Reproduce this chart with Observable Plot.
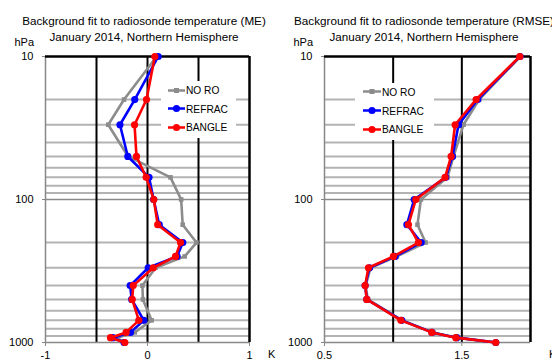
<!DOCTYPE html>
<html><head><meta charset="utf-8">
<script src="https://cdn.jsdelivr.net/npm/d3@7"></script>
<script src="https://cdn.jsdelivr.net/npm/@observablehq/plot@0.6"></script>
<style>
body{margin:0;background:#fff;font-family:"Liberation Sans",Arial,sans-serif;}
#wrap{position:relative;width:552px;height:361px;overflow:hidden;background:#fff;}
.panel{position:absolute;top:0;}
.t{position:absolute;white-space:nowrap;color:#000;font-size:11.7px;transform:translate(-50%,-50%);}
.r{position:absolute;white-space:nowrap;color:#000;font-size:11px;transform:translate(-100%,-50%);}
.l{position:absolute;white-space:nowrap;color:#000;font-size:11px;transform:translate(0,-50%);}
.legend{position:absolute;background:#fff;}
.legend .row{position:absolute;left:0;display:flex;align-items:center;font-size:10.2px;white-space:nowrap;transform:translateY(-50%);}
</style>
</head><body>
<div id="wrap"></div>
<script>
// ---- data ----
const levels = [10, 20, 30, 50, 70, 100, 150, 200, 250, 300, 400, 500, 700, 850, 925, 1000];
const seriesNames = ["NO RO", "REFRAC", "BANGLE"];
const seriesColors = ["#8c8c8c", "#0000ff", "#ff0000"];

const noroME   = [0.09, -0.23, -0.385, -0.19, 0.225, 0.33, 0.345, 0.48, 0.365, 0.08, -0.05, -0.045, 0.04, -0.125, -0.30, -0.23];
const refracME = [0.105, -0.125, -0.27, -0.193, 0.015, 0.06, 0.115, 0.346, 0.29, 0.007, -0.17, -0.155, -0.036, -0.167, -0.34, -0.23];
const bangleME = [0.072, -0.01, -0.127, -0.108, -0.013, 0.062, 0.10, 0.324, 0.275, 0.056, -0.14, -0.15, -0.085, -0.21, -0.363, -0.222];

const noroRMSE   = [1.925, 1.626, 1.512, 1.44, 1.395, 1.202, 1.177, 1.236, 1.027, 0.835, 0.80, 0.815, 1.065, 1.29, 1.465, 1.75];
const refracRMSE = [1.924, 1.616, 1.476, 1.432, 1.383, 1.153, 1.10, 1.204, 1.014, 0.828, 0.796, 0.808, 1.063, 1.283, 1.463, 1.747];
const bangleRMSE = [1.922, 1.604, 1.451, 1.422, 1.378, 1.165, 1.111, 1.184, 1.002, 0.820, 0.796, 0.808, 1.056, 1.281, 1.456, 1.747];

const minorGrid = [20, 30, 40, 50, 60, 70, 80, 90, 200, 300, 400, 500, 600, 700, 800, 900];
const majorGrid = [100];
const yTicks = [10, 100, 1000];

const titlesME = ["Background fit to radiosonde temperature (ME)", "January 2014, Northern Hemisphere"];
const titlesRMSE = ["Background fit to radiosonde temperature (RMSE)", "January 2014, Northern Hemisphere"];

const meX = {domain: [-1, 1], ticks: [-1, 0, 1], grid: [-0.5, 0, 0.5]};
const rmseX = {domain: [0.5, 2], ticks: [0.5, 1.5], grid: [1.0, 1.5]};

function rows(vals) { return levels.map((p, i) => ({p, v: vals[i]})); }

function makePanel(seriesVals, xs, mL, mR) {
  const marks = [
    Plot.ruleY(minorGrid, {stroke: "#b3b3b3", strokeWidth: 2}),
    Plot.ruleY(majorGrid, {stroke: "#8a8a8a", strokeWidth: 1.5}),
    Plot.ruleX(xs.grid, {stroke: "#000", strokeWidth: 2}),
    Plot.ruleX([xs.domain[0]], {stroke: "#888", strokeWidth: 1.5}),
    Plot.ruleY([1000], {stroke: "#888", strokeWidth: 1.5}),
    Plot.ruleY([10], {stroke: "#000", strokeWidth: 2.5}),
    Plot.ruleX([xs.domain[1]], {stroke: "#000", strokeWidth: 2.5}),
    Plot.axisX({ticks: xs.ticks, tickFormat: d => String(d), tickSize: 4, tickPadding: 5, label: null, stroke: "#888"}),
    Plot.axisY({ticks: yTicks, tickFormat: d => String(d), tickSize: 3, tickPadding: 9, label: null, stroke: "#888"})
  ];
  seriesVals.forEach((vals, i) => {
    const d = rows(vals);
    marks.push(Plot.line(d, {x: "v", y: "p", stroke: seriesColors[i], strokeWidth: 2.6}));
    marks.push(Plot.dot(d, {x: "v", y: "p", fill: seriesColors[i], r: i === 0 ? 2.6 : 3.6, symbol: i === 0 ? "square" : "circle", stroke: "none"}));
  });
  return Plot.plot({
    width: 276, height: 361,
    marginLeft: mL, marginRight: mR, marginTop: 56, marginBottom: 19,
    style: {fontFamily: "'Liberation Sans', Arial, sans-serif", fontSize: "11px", background: "transparent", overflow: "visible"},
    x: {domain: xs.domain},
    y: {type: "log", domain: [10, 1000], reverse: true},
    marks
  });
}

const wrap = document.getElementById("wrap");

function addPanel(left, seriesVals, xs, mL, mR, titles, tcx, legendBox) {
  const div = document.createElement("div");
  div.className = "panel";
  div.style.left = left + "px";
  div.appendChild(makePanel(seriesVals, xs, mL, mR));
  wrap.appendChild(div);
  const t1 = document.createElement("div"); t1.className = "t"; t1.style.left = (left + tcx) + "px"; t1.style.top = "20px"; t1.textContent = titles[0]; wrap.appendChild(t1);
  const t2 = document.createElement("div"); t2.className = "t"; t2.style.left = (left + tcx) + "px"; t2.style.top = "36px"; t2.textContent = titles[1]; wrap.appendChild(t2);
  const h = document.createElement("div"); h.className = "r"; h.style.left = (left + mL - 11) + "px"; h.style.top = "42px"; h.textContent = "hPa"; wrap.appendChild(h);
  const k = document.createElement("div"); k.className = "l"; k.style.left = (left + 276 - mR + 19) + "px"; k.style.top = "354px"; k.textContent = "K"; wrap.appendChild(k);
  // legend
  const lg = document.createElement("div"); lg.className = "legend";
  Object.assign(lg.style, {left: (left + legendBox.x) + "px", top: legendBox.y + "px", width: legendBox.w + "px", height: legendBox.h + "px"});
  seriesNames.forEach((name, i) => {
    const row = document.createElement("div"); row.className = "row";
    row.style.top = legendBox.rows[i] + "px"; row.style.left = legendBox.sx + "px";
    const sw = legendBox.sw;
    const mk = i === 0 ? `<rect x="${sw/2-2.5}" y="2.5" width="5" height="5" fill="${seriesColors[i]}"/>` : `<circle cx="${sw/2}" cy="5" r="3.6" fill="${seriesColors[i]}"/>`;
    row.innerHTML = `<svg width="${sw}" height="10" style="display:block"><line x1="0" x2="${sw}" y1="5" y2="5" stroke="${seriesColors[i]}" stroke-width="2.6"/>${mk}</svg><span style="margin-left:1px">${name}</span>`;
    lg.appendChild(row);
  });
  wrap.appendChild(lg);
}

addPanel(0, [noroME, refracME, bangleME], meX, 45, 27, titlesME, 144,
  {x: 161, y: 81, w: 75, h: 57, rows: [9, 27.5, 46.3], sx: 7, sw: 17});
addPanel(276, [noroRMSE, refracRMSE, bangleRMSE], rmseX, 48, 22, titlesRMSE, 148,
  {x: 79, y: 83, w: 79, h: 57, rows: [8.7, 27.7, 46.3], sx: 8, sw: 18});
</script>
</body></html>
